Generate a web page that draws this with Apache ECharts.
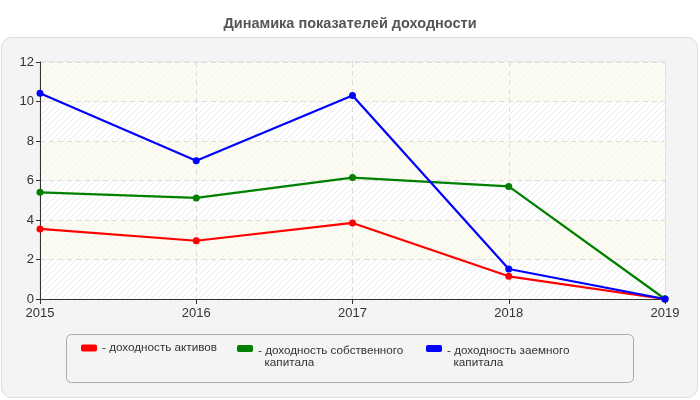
<!DOCTYPE html>
<html><head><meta charset="utf-8">
<script src="https://cdn.jsdelivr.net/npm/echarts@6/dist/echarts.min.js"></script>
<style>html,body{margin:0;padding:0;background:#fff}#c{width:700px;height:400px}</style>
</head><body><div id="c"></div>
<script>
var years = ['2015','2016','2017','2018','2019'];
var seriesNames = ['доходность активов','доходность собственного\nкапитала','доходность заемного\nкапитала'];
var assets = [3.55, 2.95, 3.85, 1.15, 0];
var equity = [5.4, 5.12, 6.15, 5.7, 0];
var borrowed = [10.42, 7.0, 10.3, 1.52, 0];
var colors = ['#ff0000','#008000','#0000ff'];

function hatch(bg, line){
  var cv = document.createElement('canvas'); cv.width = 6; cv.height = 6;
  var g = cv.getContext('2d'); g.fillStyle = bg; g.fillRect(0,0,6,6);
  g.strokeStyle = line; g.lineWidth = 1;
  g.beginPath(); g.moveTo(-1,7); g.lineTo(7,-1); g.moveTo(-1,1); g.lineTo(1,-1); g.moveTo(5,7); g.lineTo(7,5); g.stroke();
  return {image: cv, repeat: 'repeat'};
}

var chart = echarts.init(document.getElementById('c'), null, {renderer:'canvas'});
var data = [assets, equity, borrowed];
var lefts = [76, 232, 421];
var tops = [337, 331, 331];
chart.setOption({
  backgroundColor: '#ffffff',
  animation: false,
  title: {text: 'Динамика показателей доходности', left: 'center', top: 11,
    textStyle: {fontFamily: 'Liberation Sans, Arial', fontSize: 14.5, fontWeight: 'bold', color: '#555'}},
  graphic: [
    {type: 'rect', shape: {x: 1.5, y: 37.5, width: 696, height: 360, r: 10}, style: {fill: '#f4f4f4', stroke: '#dddddd', lineWidth: 1}, z: -10},
    {type: 'rect', shape: {x: 66.5, y: 334.5, width: 567, height: 48, r: 5}, style: {fill: '#f4f4f4', stroke: '#aaaaaa', lineWidth: 1}, z: -5}
  ],
  legend: seriesNames.map(function(n, i){
    return {data: [n], left: lefts[i], top: tops[i],
      icon: 'roundRect', itemWidth: 16, itemHeight: 7, itemGap: 0,
      formatter: function(name){
        var parts = name.split('\n');
        if (parts.length === 1) return '{t|- ' + name + '}';
        return '{s| }\n{t|- ' + parts[0] + '}\n{t|  ' + parts[1] + '}';
      },
      textStyle: {fontFamily: 'Liberation Sans, Arial', fontSize: 11.7, color: '#333',
        rich: {t: {fontFamily: 'Liberation Sans, Arial', fontSize: 11.7, color: '#333', lineHeight: 12},
               s: {fontSize: 1, lineHeight: 17}}}};
  }),
  grid: {left: 40, right: 35, top: 62, bottom: 101, show: true, borderColor: '#dddddd', borderWidth: 1, backgroundColor: 'transparent'},
  xAxis: {type: 'category', data: years, boundaryGap: false,
    axisLine: {lineStyle: {color: '#333', width: 1}},
    axisTick: {show: true, length: 5, lineStyle: {color: '#333'}},
    axisLabel: {fontFamily: 'Liberation Sans, Arial', fontSize: 13, color: '#333', margin: 8},
    splitLine: {show: true, lineStyle: {color: '#dddddd', type: [5,4]}}},
  yAxis: {type: 'value', min: 0, max: 12, interval: 2,
    axisLine: {show: true, lineStyle: {color: '#333', width: 1}},
    axisTick: {show: true, length: 4, lineStyle: {color: '#333'}},
    axisLabel: {fontFamily: 'Liberation Sans, Arial', fontSize: 13, color: '#333', margin: 6},
    splitLine: {show: true, lineStyle: {color: '#dddddd', type: [5,4]}},
    splitArea: {show: true, areaStyle: {color: [hatch('#ffffff', '#ececec'), hatch('#fcfcf3', '#f3f3ea')]}}},
  series: seriesNames.map(function(n, i){
    return {name: n, type: 'line', data: data[i], symbol: 'circle', symbolSize: 7,
      lineStyle: {color: colors[i], width: 2.2}, itemStyle: {color: colors[i]}, z: 3 + i};
  })
});
</script></body></html>
